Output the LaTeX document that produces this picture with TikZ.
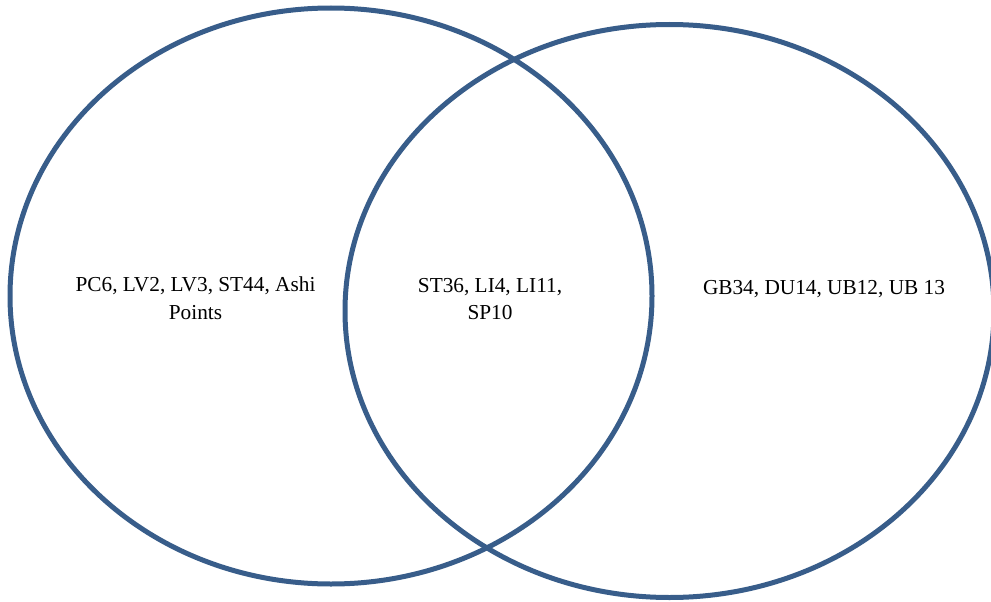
\documentclass[tikz,border=0pt]{standalone}
\usepackage{fontspec}
\setmainfont{Liberation Serif}
\definecolor{setblue}{RGB}{56,93,138}

\begin{document}
\begin{tikzpicture}[x=1pt,y=-1pt]
  \tikzset{
    setline/.style={draw=setblue, line width=5pt},
    pointtext/.style={align=center, inner sep=0pt, font={\fontsize{21.3}{27.6}\selectfont}}
  }
  \useasboundingbox (0,0) rectangle (991,602);
  \draw[setline] (331,296) ellipse [x radius=321pt, y radius=288pt]; % left set
  \draw[setline] (669.5,311) ellipse [x radius=324.5pt, y radius=286.5pt]; % right set
  \node[pointtext] (leftonly) at (195.5,298.5) {PC6, LV2, LV3, ST44, Ashi\\Points};
  \node[pointtext] (both) at (490,299) {ST36, LI4, LI11,\\SP10};
  \node[pointtext, anchor=base] (rightonly) at (824,294) {GB34, DU14, UB12, UB 13};
\end{tikzpicture}
\end{document}
